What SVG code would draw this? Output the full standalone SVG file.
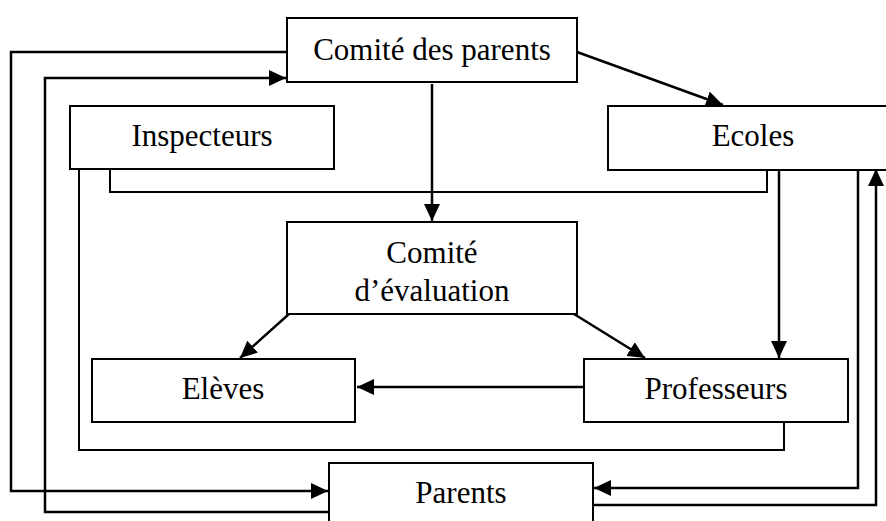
<svg xmlns="http://www.w3.org/2000/svg" width="886" height="521" viewBox="0 0 886 521">
<defs>
<marker id="arr" markerUnits="userSpaceOnUse" markerWidth="18" markerHeight="16" refX="17" refY="8" orient="auto">
<path d="M0,0 L17,8 L0,16 Z" fill="#000"/>
</marker>
<style>
.box{fill:#fff;stroke:#000;stroke-width:2}
.ln{fill:none;stroke:#000;stroke-width:2}
.ar{fill:none;stroke:#000;stroke-width:2.5;marker-end:url(#arr)}
text{font-family:"Liberation Serif","Times New Roman",serif;font-size:31px;fill:#000;text-anchor:middle}
</style>
</defs>
<rect width="886" height="521" fill="#fff"/>
<g id="connectors">
<polyline class="ar" points="287,52 11,52 11,491 328,491"/>
<polyline class="ar" points="328,512 45,512 45,78 286,78"/>
<polyline class="ln" points="79,169 79,450 784,450 784,422"/>
<polyline class="ln" points="110,169 110,192 767,192 767,170"/>
<line class="ar" x1="432" y1="84" x2="432" y2="221"/>
<line class="ar" x1="577" y1="52" x2="723" y2="105"/>
<line class="ar" x1="779" y1="170" x2="779" y2="358"/>
<line class="ar" x1="289" y1="314" x2="240" y2="358"/>
<line class="ar" x1="574" y1="314" x2="645" y2="358"/>
<line class="ar" x1="584" y1="387" x2="357" y2="387"/>
<polyline class="ar" points="858,170 858,488 594,488"/>
<polyline class="ar" points="594,505 876,505 876,169"/>
</g>
<g id="comite-parents"><rect class="box" x="287" y="18" width="290" height="64"/><text x="432" y="60">Comité des parents</text></g>
<g id="inspecteurs"><rect class="box" x="70" y="106" width="264" height="63"/><text x="202" y="146">Inspecteurs</text></g>
<g id="ecoles"><rect class="box" x="608" y="106" width="290" height="64"/><text x="753" y="146">Ecoles</text></g>
<g id="comite-evaluation"><rect class="box" x="287" y="222" width="290" height="92"/><text x="432" y="263">Comité</text><text x="432" y="301">d’évaluation</text></g>
<g id="eleves"><rect class="box" x="92" y="359" width="263" height="63"/><text x="223" y="399">Elèves</text></g>
<g id="professeurs"><rect class="box" x="584" y="359" width="264" height="63"/><text x="716" y="399">Professeurs</text></g>
<g id="parents"><rect class="box" x="329" y="463" width="264" height="70"/><text x="461" y="503">Parents</text></g>
</svg>
